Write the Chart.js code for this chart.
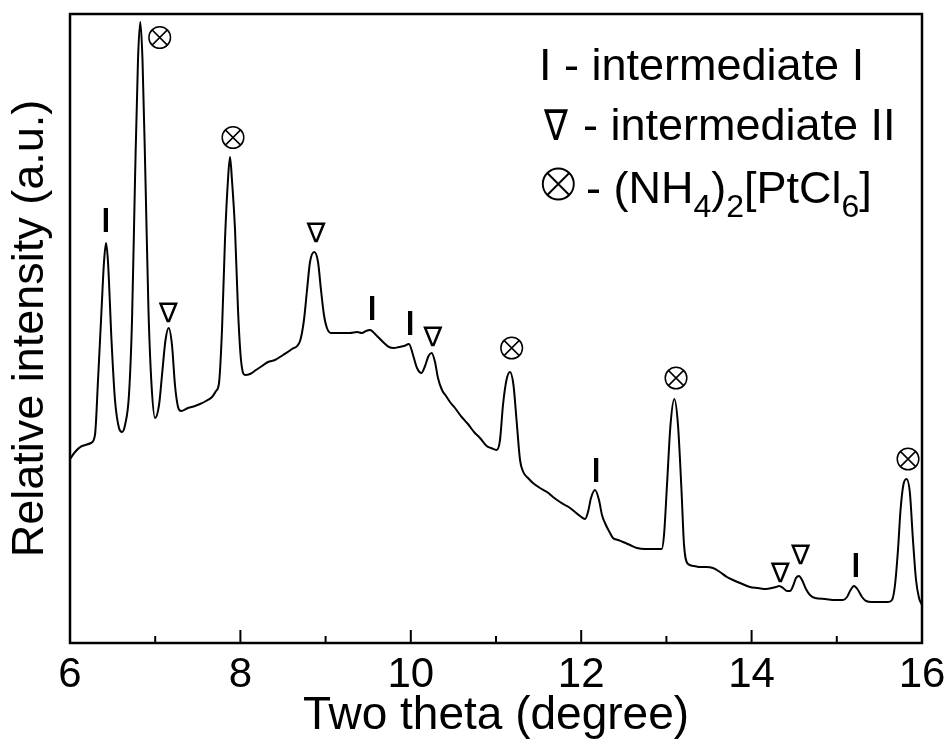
<!DOCTYPE html>
<html>
<head>
<meta charset="utf-8">
<script src="https://cdn.jsdelivr.net/npm/chart.js@4.4.1/dist/chart.umd.min.js"></script>
<style>
html,body{margin:0;padding:0;background:#fff;}
canvas{display:block;}
</style>
</head>
<body>
<canvas id="c" width="950" height="749"></canvas>
<script>
// ---- data ----
const twoTheta = [
6.000,6.059,6.141,6.246,6.293,6.329,6.370,6.399,6.423,6.446,6.487,6.528,6.575,6.610,
6.646,6.692,6.728,6.763,6.798,6.825,6.851,6.886,6.921,6.957,6.998,
7.045,7.080,7.121,7.158,7.197,7.232,7.268,7.303,7.385,7.467,7.526,7.596,7.667,7.714,7.749,
7.784,7.819,7.854,7.878,7.901,7.937,7.972,8.007,8.054,8.113,8.183,8.254,8.324,8.406,8.500,8.606,8.700,
8.746,8.782,8.817,8.867,8.911,8.946,8.981,9.016,9.063,9.134,9.204,9.286,9.369,9.427,9.474,9.521,
9.592,9.674,9.744,9.803,9.862,9.920,9.979,10.026,10.073,10.126,10.167,10.208,10.245,10.284,10.319,10.366,10.413,10.460,10.519,10.597,10.671,10.742,10.812,10.891,10.941,11.008,
11.047,11.082,11.123,11.164,11.205,11.241,11.282,11.320,11.376,11.434,11.516,11.599,11.669,11.751,11.810,11.869,11.927,11.986,12.045,
12.080,12.115,12.162,12.209,12.244,12.279,12.326,12.373,12.432,12.491,12.573,12.655,12.749,12.843,12.945,
12.972,13.007,13.048,13.093,13.136,13.177,13.207,13.254,13.324,13.394,13.465,13.547,13.629,13.711,13.782,13.864,13.981,14.075,14.169,14.239,14.286,14.322,14.369,14.416,14.451,14.486,14.521,14.556,14.592,14.638,14.685,14.744,14.862,14.979,15.073,15.120,15.155,15.202,15.249,15.296,15.343,15.413,15.507,15.601,15.648,15.683,
15.718,15.748,15.781,15.818,15.857,15.894,15.930,15.965,16.000
];
const intensity = [
184,191,197,200,208,263,333,381,400,381,303,243,215,211,
218,248,323,463,583,621,583,463,333,258,225,
238,268,303,315,298,258,236,232,235,237,239,242,246,252,260,
313,403,463,486,463,413,333,283,268,269,273,277,281,283,288,294,302,
323,353,381,391,381,353,328,315,310,310,310,310,311,310,312,313,
308,301,296,295,296,297,299,288,275,270,277,287,290,281,265,253,247,241,235,226,219,211,205,197,195,193,
203,238,263,271,258,223,183,171,165,160,155,151,146,141,138,135,131,127,124,
131,145,153,143,128,120,112,105,103,101,98,95,94,94,94,
108,158,218,244,218,153,98,79,77,76,76,75,71,66,63,60,56,55,54,55,56,57,55,52,52,57,65,67,63,54,48,45,44,43,43,46,52,57,53,46,42,41,41,41,43,58,
93,133,158,164,151,103,63,45,38
];
// peak markers: position (two theta), height (a.u.) and phase symbol
const markerTheta  = [6.419, 7.053, 7.154, 7.913, 8.887, 9.545, 9.991, 10.257, 11.184, 12.174, 13.113, 14.337, 14.574, 15.222, 15.836];
const markerLevel  = [423, 605.5, 331, 505.5, 411.3, 335.5, 320, 307, 295, 173, 265, 71.3, 89.3, 77.7, 184];
const markerSymbol = ['I','⊗','∇','⊗','∇','I','I','∇','⊗','I','⊗','∇','∇','I','⊗'];
// axis ticks
const majorTicks = [6, 8, 10, 12, 14, 16];
const minorTicks = [7, 9, 11, 13, 15];
// legend
const legendSymbols = ['I', '∇', '⊗'];
const legendTexts = ['intermediate I', 'intermediate II', '(NH4)2[PtCl6]'];

const MAIN = '"Liberation Sans", Arial, sans-serif';
const SYM = '"DejaVu Sans", "Liberation Sans", sans-serif';

function drawGlyphBox(ctx, txt, font, cx, cy, w, h) {
  ctx.save();
  ctx.font = font;
  ctx.textAlign = 'left';
  ctx.textBaseline = 'alphabetic';
  const m = ctx.measureText(txt);
  const iw = m.actualBoundingBoxLeft + m.actualBoundingBoxRight;
  const ih = m.actualBoundingBoxAscent + m.actualBoundingBoxDescent;
  ctx.translate(cx, cy);
  ctx.scale(w / iw, h / ih);
  const ox = -(m.actualBoundingBoxRight - m.actualBoundingBoxLeft) / 2;
  const oy = (m.actualBoundingBoxAscent - m.actualBoundingBoxDescent) / 2;
  ctx.fillText(txt, ox, oy);
  ctx.restore();
}
// circled times mark drawn as thin outline
function drawCircledTimes(ctx, cx, cy, r, lw) {
  ctx.save();
  ctx.lineWidth = lw;
  ctx.strokeStyle = '#000';
  ctx.beginPath();
  ctx.arc(cx, cy, r, 0, Math.PI * 2);
  const d = r * Math.SQRT1_2;
  ctx.moveTo(cx - d, cy - d); ctx.lineTo(cx + d, cy + d);
  ctx.moveTo(cx + d, cy - d); ctx.lineTo(cx - d, cy + d);
  ctx.stroke();
  ctx.restore();
}

const decor = {
  id: 'decor',
  afterDatasetsDraw(chart) {
    const {ctx, chartArea: a, scales: {x, y}} = chart;
    ctx.save();
    ctx.fillStyle = '#000';
    ctx.strokeStyle = '#000';
    // frame
    ctx.lineWidth = 2.5;
    ctx.strokeRect(a.left, a.top, a.right - a.left, a.bottom - a.top);
    // inward ticks on bottom axis
    ctx.lineWidth = 2;
    ctx.beginPath();
    majorTicks.forEach(v => { const px = x.getPixelForValue(v); ctx.moveTo(px, a.bottom); ctx.lineTo(px, a.bottom - 13); });
    minorTicks.forEach(v => { const px = x.getPixelForValue(v); ctx.moveTo(px, a.bottom); ctx.lineTo(px, a.bottom - 7); });
    ctx.stroke();
    // peak markers
    markerSymbol.forEach((s, i) => {
      const px = x.getPixelForValue(markerTheta[i]);
      const py = y.getPixelForValue(markerLevel[i]);
      if (s === 'I') drawGlyphBox(ctx, 'I', 'bold 33px ' + MAIN, px, py, 4.5, 24);
      else if (s === '∇') drawGlyphBox(ctx, '∇', '30px ' + SYM, px, py, 21, 20);
      else drawCircledTimes(ctx, px, py, 10.8, 1.5);
    });
    // legend
    ctx.textAlign = 'left';
    ctx.textBaseline = 'alphabetic';
    ctx.font = '45px ' + MAIN;
    ctx.fillText(legendSymbols[0] + ' - ' + legendTexts[0], 539, 79.5);
    drawGlyphBox(ctx, legendSymbols[1], '40px ' + SYM, 555.5, 124, 25, 31);
    ctx.font = '45px ' + MAIN;
    ctx.fillText('- ' + legendTexts[1], 583, 140);
    drawCircledTimes(ctx, 558.3, 184, 15.5, 1.9);
    // formula with subscripts
    const parts = [['- (NH', 0], ['4', 1], [')', 0], ['2', 1], ['[PtCl', 0], ['6', 1], [']', 0]];
    let cx = 586;
    parts.forEach(([t, sub]) => {
      ctx.font = (sub ? '32px ' : '45px ') + MAIN;
      ctx.fillText(t, cx, sub ? 217 : 203);
      cx += ctx.measureText(t).width;
    });
    ctx.restore();
  }
};

new Chart(document.getElementById('c'), {
  type: 'line',
  data: {
    datasets: [{
      label: 'XRD pattern',
      data: twoTheta.map((t, i) => ({x: t, y: intensity[i]})),
      borderColor: '#000',
      borderWidth: 2,
      pointRadius: 0,
      fill: false,
      cubicInterpolationMode: 'monotone'
    }]
  },
  options: {
    responsive: false,
    animation: false,
    events: [],
    layout: {padding: {top: 14, right: 28, left: 0, bottom: 0}},
    plugins: {legend: {display: false}, tooltip: {enabled: false}},
    scales: {
      x: {
        type: 'linear', min: 6, max: 16,
        afterBuildTicks(s) { s.ticks = majorTicks.map(v => ({value: v})); },
        afterFit(s) { s.height = 106; s.paddingLeft = 0; s.paddingRight = 0; },
        grid: {display: false, drawTicks: false},
        border: {display: false},
        ticks: {color: '#000', font: {family: MAIN, size: 42, lineHeight: 1.2}, padding: 7, maxRotation: 0, autoSkip: false},
        title: {display: true, text: 'Two theta (degree)', color: '#000', font: {family: MAIN, size: 46, lineHeight: 1.2}, padding: {top: 0, bottom: 5}}
      },
      y: {
        type: 'linear', min: 0, max: 629,
        afterFit(s) { s.width = 70; },
        grid: {display: false, drawTicks: false},
        border: {display: false},
        ticks: {display: false},
        title: {display: true, text: 'Relative intensity (a.u.)', color: '#000', font: {family: MAIN, size: 45, lineHeight: 1.2}, padding: {top: 4, bottom: 0}}
      }
    }
  },
  plugins: [decor]
});
</script>
</body>
</html>
